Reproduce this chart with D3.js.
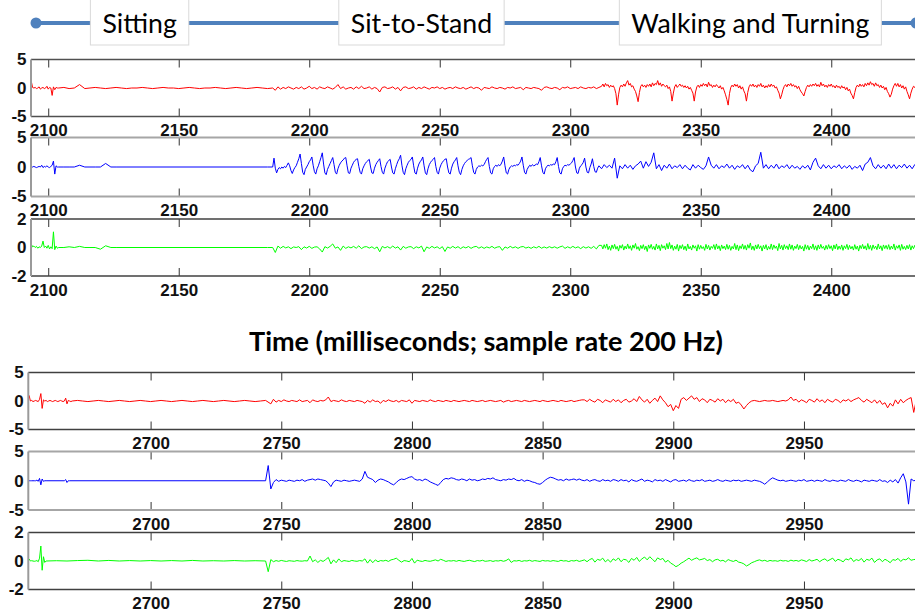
<!DOCTYPE html>
<html>
<head>
<meta charset="utf-8">
<script src="https://cdn.jsdelivr.net/npm/d3@7"></script>
<style>
  body { margin: 0; background: #fff; }
  svg { display: block; }
  .axis text { font-family: "Liberation Sans", Arial, sans-serif; font-weight: bold; font-size: 17px; fill: #111; }
</style>
</head>
<body>
<div id="chart"></div>
<script>
// activity phases shown on the timeline
const phases = ['Sitting', 'Sit-to-Stand', 'Walking and Turning'];
const phaseCenters = [2135, 2243, 2369];   // ms, first time window

const timeTicksTop = [2100, 2150, 2200, 2250, 2300, 2350, 2400];
const timeTicksBottom = [2700, 2750, 2800, 2850, 2900, 2950];
const accTicks = [-5, 0, 5];
const gyroTicks = [-2, 0, 2];

// each trace is a list of runs: [start ms, step ms, samples]
// red / blue samples in tenths, green samples in hundredths
const redTop = [
  [2093.5, 0.5, [12,1,0,1,-1,0,2,-2,0,1,-1,0,3,-2,1,0,-13,2,-3,1,0]],
  [2104, 2, [0,1,-1,0,6,-1,0,1,0,-1,0,1,0,-1,0,0,1,0,-1,0,1,0,0,-1,0,1,0,-1,0,0,1,0,-1,0,1,0,-1,0,1,0,-1]],
  [2186, 1, [
    0,-4,2,-2,1,-1,2,0,-2,1, -1,2,-2,0,3,-1,1,-2,2,0, -1,2,0,-2,1,6,-1,2,-2,0,
    1,-2,2,-1,3,-1,0,2,-2,1, -1,-7,1,2,-1,0,2,-2,1,-5, 1,2,-1,0,2,-2,1,-1,2,0,
    -2,1,0,2,-1,1,-2,0,1,-1, 2,0,-1,1,-2,0,2,-1,1,0, -4,1,0,-1,2,0,-1,1,0,-2,
    1,0,2,-1,0,1,-3,1,0,-1, 1,0,-1,-4,1,2,0,-1,1,0, -3,1,0,2,-1,0,1,-1,2,0,
    -1,1,0,2,-1,1]],
  [2312, 0.5, [
    3,7,2,8,4,6,1,5,2,4, -1,-10,-30,-12,1,5,2,7,3,9,
    13,5,8,2,4,-2,-6,-14,-24,-8, 3,6,2,5,1,6,3,7,2,9,
    4,8,6,13,5,9,3,7,4,2, 5,-1,2,-6,-23,-9,2,6,1,4,
    7,3,5,1,4,0,3,-2,1,-4, -9,-23,-7,2,5,1,6,3,8,4,
    7,2,10,4,6,1,5,2,6,3, 0,4,-2,1,-5,-12,-20,-30,-10,1,
    5,2,7,3,6,0,4,-2,2,-5, -10,-23,-8,2,6,3,7,2,5,1,
    6,3,8,2,5,0,4,1,6,2, 7,3,5,0,2,-4,-9,-19,-12,-3,
    3,6,2,7,4,8,3,6,2,4, -1,3,-3,-7,-10,-14,-6,1,5,2,
    6,3,7,4,8,3,6,2,10,4, 7,2,5,1,6,3,7,2,4,0,
    5,1,3,-1,4,0,2,-3,1,-5, -2,-9,-13,-19,-8,1,5,2,7,3,
    6,2,8,4,9,5,11,6,8,3, 9,4,6,1,5,0,3,-3,1,-6,
    -10,-16,-11,-2,4,8,3,8,2,6, 0,4,-2,2,-6,-12,-19,-9,-2,3,
    1,5,2,4]]
];

const blueTop = [
  [2093.5, 0.5, [0,0,1,0,-1,0,1,0,3,-1,1,0,2,0,-1,1,3,10,-12,2,0]],
  [2104, 2, [0,0,0,0,3,0,0,0,0,6,0]],
  [2126, 58, [0,0]],
  [2186, 0.5, [
    0,15,-2,-10,-4,-1,-3,0,-2,1, -1,3,7,2,-6,-11,-5,-1,2,8,
    14,22,6,-9,-13,-4,0,4,9,12, 17,3,-8,-12,-3,2,9,16,24,5,
    -10,-13,-4,1,6,11,16,4,-9,-12, -3,3,7,10,12,15,16,2,-10,-11,
    -2,3,8,11,13,14,1,-9,-12,-3, 2,6,9,11,13,0,-10,-11,-2,4,
    8,11,14,1,-9,-12,-2,4,9,11, 13,0,-10,-12,-3,4,10,14,20,3,
    -9,-13,-3,3,8,11,13,17,2,-10, -12,-2,5,9,12,17,2,-10,-13,-3,
    4,8,11,13,16,1,-9,-12,-2,4, 8,11,13,14,0,-10,-12,-2,5,9,
    12,16,2,-9,-13,-4,2,6,9,11, 13,14,
    16,2,-9,-12,-4,0,2,1,3,2, 4,9,13,16,1,-10,-12,-3,1,3,
    1,4,2,5,10,17,2,-10,-12,-4, 0,2,1,3,2,4,3,6,10,17,
    3,-9,-12,-4,0,3,1,4,2,3, 5,4,9,16,2,-9,-12,-3,1,3,
    2,4,3,5,4,9,16,1,-10,-12, -3,1,3,2,4,3,5,7,11,16,
    0,-10,-11,-2,2,4,8,15,0,-9, -10,-1,5,14,1,-8,-9,-2]],
  [2311, 1, [
    2,-3,4,-1,3,-2,15,-19,2,-3, 4,-2,3,-4,2,5,10,-2,9,1,
    8,24,-3,4,-6,3,-2,5,-3,2, -1,4,-3,3,-2,-5,4,-2,3,-1,
    -4,2,17,3,-2,4,-3,2,-1,5, -2,3,-4,2,-1,4,-3,3,-5,-8,
    2,6,25,-2,4,-3,3,-2,5,-3, 2,-1,4,-3,3,-2,1,-4,2,-2,
    3,-5,8,15,2,-3,4,-2,3,-3, 2,-1,4,-3,2,-2,3,-4,1,-2,
    3,-6,5,8,16,2,-3,4,-2,3, -3,5,-2,4,-3,3,-1,5,-2,3,
    -3,4,-1,2]]
];

const greenTop = [
  [2093.5, 0.5, [25,5,10,0,8,-5,5,0,10,45,0,10,-5,15,-10,5,-8,110,-15,10,-5]],
  [2104, 2, [0,0,5,0,8,0,0,0,-12,12,0]],
  [2126, 58, [0,0]],
  [2186, 1, [
    0,-35,10,-5,8,-3,5,-8,4,0, 6,-15,5,-4,8,-6,3,5,-10,-32,
    6,-4,8,25,-5,4,-20,10,-6,5, -3,8,-5,12,-8,4,6,-4,5,-8,
    4,-30,8,-3,6,-5,10,-4,5,-18, 8,-5,4,6,-8,5,-3,10,-30,4,
    -6,8,-3,5,-8,6,-28,4,-5,8, -4,6,-8,5,-3,7,-6,4,8,-5,
    5,-6,4,-3,8,-5,3,6,-20,4, -5,8,-3,5,-6,4,7,-4,3,-6,
    5,-3,8,-5,4,-4,6,-3,5,-5, 4,10,-6,5,-4,8,-3,5,-8,6,
    -4,5,-6,8,-10,15]],
  [2312, 0.5, [
    15,-10,20,-5,25,-15,10,-20,18,-8,22,-12,8,-25,15,-5,20,-18,10,-10,
    25,-8,12,-20,18,-5,28,-12,6,-22,15,-8,20,-15,10,-28,18,-6,22,-12,
    8,-18,25,-10,15,-22,20,-5,12,-15,28,-10,35,-8,18,-20,10,-12,22,-25,
    15,-8,20,-15,10,-22,25,-10,8,-18,18,-5,12,-25,20,-12,15,-8,6,-20,
    22,-10,15,-18,8,-6,20,-15,25,-10,12,-22,18,-8,10,-15,22,-12,15,-20,
    8,-10,28,-15,18,-22,12,-8,25,-12,15,-18,20,-5,32,-15,10,-20,18,-10,
    22,-8,12,-25,15,-10,20,-18,8,-12,25,-15,18,-6,10,-22,28,-10,15,-18,
    20,-8,12,-15,25,-12,18,-20,10,-8,22,-15,15,-10,8,-25,20,-12,15,-18,
    10,-8,25,-15,12,-20,18,-10,22,-6,8,-18,15,-12,20,-8,12,-22,18,-10,
    25,-15,10,-12,18,-20,12,-8,22,-15,15,-10,8,-18,20,-12,10,-25,15,-8,
    22,-10,12,-18,28,-12,15,-20,18,-8,10,-15,25,-10,12,-22,18,-8,15,-12,
    20,-15,10,-10,25,-18,12,-6,18,-20,22,-12,8,-15,15,-10,20,-18,12,-8,
    15,-12,20,-10]]
];

const redBottom = [
  [2653.5, 0.5, [10,0,1,-1,0,1,0,-1,3,13,-13,2,0,1,-1,0,1,0,-1,0,1,0,-1,0,1,0,-1,0,5,-5,1,0,-1]],
  [2670, 2, [0,1,0,-1,0,1,0,-1,0,1,0,-1,0,1,0,-1,0,1,0,-1,0,1,0,-1,0,1,0,-1,0,1,0,-1,0,1,0,-1,0,1]],
  [2746, 1, [
    -5,3,-2,1,-1,2,0,-1,1,0, -1,2,-1,0,1,-3,2,0,-1,1,
    0,2,7,-1,1,0,-1,2,0,-1, 1,0,-1,1,0,-1,-4,1,-2,2,
    -1,0,-4,1,-1,2,0,-1,1,-2, 1,0,-1,2,-4,1,0,-1,1,0,
    -1,2,0,-1,1,0,-1,1,0,-1, 1,0,-1,0,1,0,-1,1,0,-1,
    0,1,-1,0,1,0,-1,0,1,-2, 0,1,-1,0,1,0,-1,1,0,-1,
    0,1,0,-1,1,0,-1,0,1,0, -1,1,0,-1,0,1,-1,0,1,2]],
  [2866, 1, [
    2,-1,3,0,-2,3,1,-3,2,0, -2,3,-1,2,-3,1,3,-2,0,4,
    -1,8,2,-2,3,-4,1,5,-1,9, 2,-3,-10,-6,-17,-8,-13,3,6,1,
    5,9,3,6,-1,4,2,-3,3,1, -2,4,0,3,-3,2,-1,3,-4,-2,
    -7,-14,-8,-3,0,1,0,-1,0,1, 0,0,1,0,-1,0,1,0,2,7,
    1,3,-2,2,0,-3,3,1,-2,4, -1,2,-3,3,0,-2,3,1,-3,2,
    0,3,-1,2,4,6,1,-2,3,0, -3,2,-4,1,-6,-3,-12,-4,-9,2,
    -5,3,-3,1,4,6,-20,2,0]]
];

const blueBottom = [
  [2653.5, 0.5, [0,0,0,0,0,0,1,-1,4,-7,3,-1,0]],
  [2660, 7, [0,0]],
  [2667.5, 0.5, [2,-3,0]],
  [2669, 74, [0,0]],
  [2744, 1, [
    0,26,-14,-3,2,-1,1,0,-1,1, 0,-1,1,0,2,-1,1,2,3,1,
    3,2,1,0,-4,-10,-2,1,0,-1, 1,0,-1,0,1,0,-1,3,16,6,
    4,2,-3,1,3,2,0,-2,-5,-7, -3,1,3,2,4,6,7,3,1,2,
    0,3,1,-2,-4,-6,-8,-3,2,4, 3,5,4,2,1,3,2,0,3,1,
    2,0,1,3,2,4,3,5,2,1, 0,2,1,3,2,4,1,0,2,-1,
    1,0,-2,-3,-5,-6,-3,1,4,6, 5,3,1,2,0,3,1,2,3,1,
    3,1,0,2,-1,1,2,0,-1,2, 0,1,-1,2,1,-1,2,0,1,-2,
    2,0,-1,1,3,-1,1,0,-2,2, 0,1,-1,2,0,-2,1,2,-1,0,
    1,-1,2,0,-1,1,0,2,-1,0, 1,-1,0,2,0,-1,1,0,-1,1,
    0,1,-1,0,1,0,-1,1,0,-1, -3,-6,-2,2,5,3,1,0,1,-1,
    0,1,0,-1,1,0,2,-1,0,1, -1,1,0,-1,2,0,-1,1,0,-1,
    1,0,-1,2,0,-1,1,0,-2,1, 0,-1,1,0,-1,2,-1,0,-3,1,
    -2,2,-4,5,12,-2,-40,3,0,1, 0]]
];

const greenBottom = [
  [2653.5, 0.5, [15,0,2,0,-2,0,3,-5,20,105,-65,30,-10]],
  [2660, 4, [0,2,0,3,5,0,4,0,3,0,3,0,3,0,4,0,2,0,3,0,2]],
  [2744, 1, [
    0,-75,10,-5,3,-2,4,0,-3,2,0, -2,3,0,-1,2,0,35,-5,8,-10,
    5,-3,10,25,-20,8,-12,15,-5,3, 0,-3,4,0,-2,3,0,15,-15,10,
    -12,8,-5,3,0,5,-3,8,12,20, 5,-8,3,0,-5,18,-15,6,0,-3,
    4,0,-2,3,8,0,12,5,-3,2, 0,3,-2,4,0,-3,2,5,0,-4,
    3,0,5,-2,0,3,-3,2,0,4, -2,3,15,-10,2,0,4,-3,2,0,
    5,-2,3,0,-3,4,0,2,-2,3, 0,-3,5,0,2,-4,3,0,5,-3,
    2,8,-5,10,18,-8,12,5,20,-6, 10,-8,15,3,22,-5,12,8,-10,18,
    5,25,-3,15,28,8,30,12,-5,22, 10,18,-8,5,-15,-25,-40,-30,-15,-5,
    8,20,5,15,22,8,12,18,3,10, -5,8,12,0,5,-6,10,2,-3,6,
    -8,-12,-20,-35,-25,-12,-5,3,8,0, 5,-3,4,0,2,-2,5,0,3,-3,
    6,0,4,-2,8,3,-4,10,0,5, 12,-5,8,15,0,10,20,-3,12,5,
    -6,15,8,22,-4,10,3,18,-8,12, 5,20,-10,8,15,-5,12,2,-12,10,
    5,18,-3,12,8,22,5,10,12,10]]
];

const width = 915, height = 615;

const svg = d3.select('#chart').append('svg')
    .attr('width', width)
    .attr('height', height);

// flatten runs into [time, value] points
function expand(runs, div) {
    const pts = [];
    runs.forEach(([start, step, values]) => {
        values.forEach((v, i) => pts.push([start + i * step, v / div]));
    });
    return pts;
}

const groups = [
    {
        domain: [2093.4, 2434], range: [31, 920], ticks: timeTicksTop,
        panels: [
            {top: 59.5, bottom: 116.5, yTicks: accTicks, runs: redTop, div: 10, color: '#ff0000', frame: '#505050', frameWidth: 1.3},
            {top: 137.5, bottom: 196.5, yTicks: accTicks, runs: blueTop, div: 10, color: '#0000ff', frame: '#a6a6a6', frameWidth: 2},
            {top: 219, bottom: 276, yTicks: gyroTicks, runs: greenTop, div: 100, color: '#00ff00', frame: '#404040', frameWidth: 1.3}
        ]
    },
    {
        domain: [2653.2, 2994.4], range: [28.3, 920], ticks: timeTicksBottom,
        panels: [
            {top: 372.5, bottom: 429.5, yTicks: accTicks, runs: redBottom, div: 10, color: '#ff0000', frame: '#404040', frameWidth: 1.3},
            {top: 451.5, bottom: 510, yTicks: accTicks, runs: blueBottom, div: 10, color: '#0000ff', frame: '#a6a6a6', frameWidth: 2},
            {top: 532.5, bottom: 589.5, yTicks: gyroTicks, runs: greenBottom, div: 100, color: '#00ff00', frame: '#404040', frameWidth: 1.3}
        ]
    }
];

let clipId = 0;

groups.forEach(group => {
    const x = d3.scaleLinear().domain(group.domain).range(group.range);
    const left = group.range[0];

    group.panels.forEach(p => {
        const extent = d3.extent(p.yTicks);
        const y = d3.scaleLinear().domain(extent).range([p.bottom, p.top]);
        const g = svg.append('g');

        const id = 'clip' + (clipId++);
        g.append('clipPath').attr('id', id)
            .append('rect')
                .attr('x', left).attr('y', p.top)
                .attr('width', width - left).attr('height', p.bottom - p.top);

        // signal trace
        const line = d3.line().x(d => x(d[0])).y(d => y(d[1]));
        g.append('path')
            .datum(expand(p.runs, p.div))
            .attr('clip-path', `url(#${id})`)
            .attr('fill', 'none')
            .attr('stroke', p.color)
            .attr('stroke-width', 1)
            .attr('stroke-linejoin', 'round')
            .attr('d', line);

        // time axis: inward ticks at bottom with labels, bare ticks at top
        const xAxis = g.append('g')
            .attr('class', 'axis')
            .attr('transform', `translate(0,${p.bottom})`)
            .call(d3.axisBottom(x).tickValues(group.ticks).tickSize(-8).tickPadding(7.5).tickFormat(d => String(d)));
        xAxis.select('.domain').remove();
        xAxis.selectAll('.tick line').attr('stroke', '#333');

        const topAxis = g.append('g')
            .attr('transform', `translate(0,${p.top})`)
            .call(d3.axisTop(x).tickValues(group.ticks).tickSize(-8).tickFormat(''));
        topAxis.select('.domain').remove();
        topAxis.selectAll('.tick line').attr('stroke', '#333');

        // value axis labels
        const yAxis = g.append('g')
            .attr('class', 'axis')
            .attr('transform', `translate(${left},0)`)
            .call(d3.axisLeft(y).tickValues(p.yTicks).tickSize(0).tickPadding(4.5).tickFormat(d => String(d)));
        yAxis.select('.domain').remove();

        // frame
        g.append('line')
            .attr('x1', left).attr('x2', width)
            .attr('y1', p.top).attr('y2', p.top)
            .attr('stroke', p.frame).attr('stroke-width', p.frameWidth);
        g.append('line')
            .attr('x1', left).attr('x2', width)
            .attr('y1', p.bottom).attr('y2', p.bottom)
            .attr('stroke', p.frame).attr('stroke-width', p.frameWidth);
        g.append('line')
            .attr('x1', left).attr('x2', left)
            .attr('y1', p.top).attr('y2', p.bottom)
            .attr('stroke', '#9a9a9a').attr('stroke-width', 2);
    });
});

// phase timeline across the top
const xPhase = d3.scaleLinear().domain(groups[0].domain).range(groups[0].range);
const timeline = svg.append('g');
const lineColor = '#4f81bd';

timeline.append('line')
    .attr('x1', 36).attr('x2', width)
    .attr('y1', 23).attr('y2', 23)
    .attr('stroke', lineColor)
    .attr('stroke-width', 4);
timeline.selectAll('circle')
    .data([36, 916])
    .join('circle')
        .attr('cx', d => d)
        .attr('cy', 23)
        .attr('r', 5.5)
        .attr('fill', lineColor);

const phaseG = timeline.selectAll('g.phase')
    .data(phases)
    .join('g')
        .attr('class', 'phase')
        .attr('transform', (d, i) => `translate(${xPhase(phaseCenters[i])},23)`);

phaseG.append('rect')
    .attr('fill', '#fff')
    .attr('stroke', '#d9d9d9')
    .attr('stroke-width', 1);

phaseG.append('text')
    .attr('text-anchor', 'middle')
    .attr('dominant-baseline', 'central')
    .style('font-family', 'Lato, "Open Sans", sans-serif')
    .style('font-size', '26.7px')
    .style('fill', '#000')
    .text(d => d);

phaseG.each(function() {
    const g = d3.select(this);
    const w = g.select('text').node().getComputedTextLength();
    g.select('rect')
        .attr('x', -w / 2 - 12)
        .attr('y', -24)
        .attr('width', w + 24)
        .attr('height', 46);
});

// axis title between the two windows
svg.append('text')
    .attr('x', 486)
    .attr('y', 340)
    .attr('text-anchor', 'middle')
    .attr('dominant-baseline', 'central')
    .style('font-family', 'Lato, "Open Sans", sans-serif')
    .style('font-weight', 'bold')
    .style('font-size', '27px')
    .style('fill', '#000')
    .text('Time (milliseconds; sample rate 200 Hz)');
</script>
</body>
</html>
